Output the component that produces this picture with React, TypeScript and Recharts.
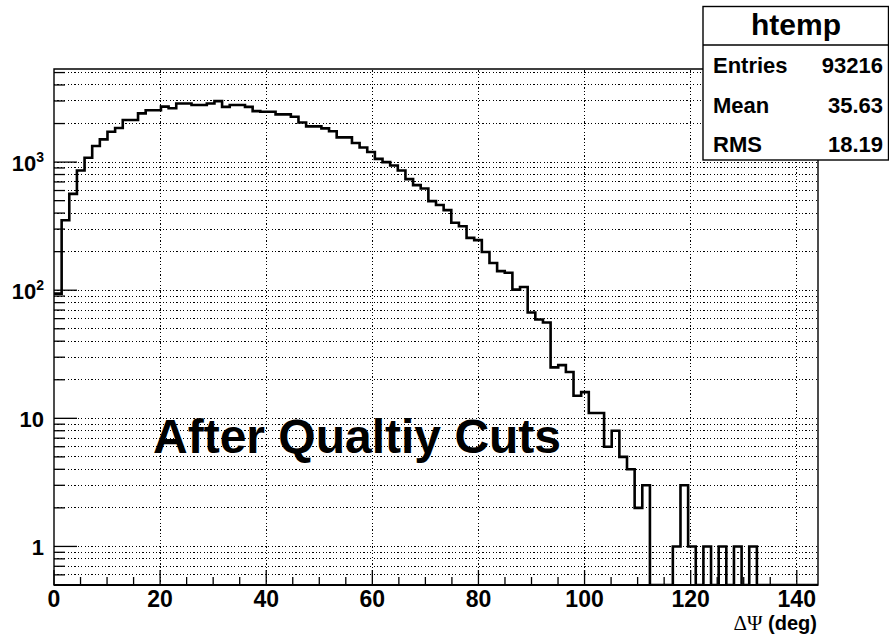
import { ComposedChart, Line, XAxis, YAxis, ReferenceLine, ReferenceArea } from "recharts";

const W = 889;
const H = 639;
const FONT = "'Liberation Sans', Arial, Helvetica, sans-serif";

const BIN_WIDTH = 1.44;
const X_MAX = 144;
const Y_MIN = 0.5;
const Y_MAX = 5330;

// entries per bin (100 bins of 1.44 deg from 0 to 144)
const counts = [
  94, 352, 565, 860, 1080, 1334, 1504, 1725, 1844, 2130,
  2130, 2400, 2540, 2540, 2710, 2630, 2870, 2870, 2790, 2790,
  2870, 2990, 2700, 2790, 2790, 2700, 2500, 2470, 2470, 2360,
  2360, 2260, 2040, 1900, 1900, 1834, 1740, 1560, 1560, 1410,
  1300, 1200, 1060, 1000, 940, 860, 737, 661, 623, 496,
  462, 422, 336, 316, 256, 246, 199, 163, 141, 137,
  101, 106, 67, 59, 56, 25, 26, 23, 15, 16,
  11, 11, 6, 8, 5, 4, 2, 3, 0, 0,
  0, 1, 3, 1, 0, 1, 0, 1, 0, 1,
  0, 1, 0, 0, 0, 0, 0, 0, 0, 0,
];

const xTicks = [
  0, 5, 10, 15, 20, 25, 30, 35, 40, 45, 50, 55, 60, 65, 70,
  75, 80, 85, 90, 95, 100, 105, 110, 115, 120, 125, 130, 135, 140,
];
const xLabelled = [0, 20, 40, 60, 80, 100, 120, 140];
const xGrid = [20, 40, 60, 80, 100, 120, 140];

const yTicks = [
  0.6, 0.7, 0.8, 0.9, 1, 2, 3, 4, 5, 6, 7, 8, 9,
  10, 20, 30, 40, 50, 60, 70, 80, 90,
  100, 200, 300, 400, 500, 600, 700, 800, 900,
  1000, 2000, 3000, 4000, 5000,
];
const yLabels: Record<number, [string, string]> = {
  1: ["1", ""],
  10: ["10", ""],
  100: ["10", "2"],
  1000: ["10", "3"],
};

const statsTitle = "htemp";
const statsRows = [
  ["Entries", "93216"],
  ["Mean", "35.63"],
  ["RMS", "18.19"],
];
const statsBaselines = [73, 113, 152];

// step outline: one point per bin low edge, plus the closing edge
const hist = counts.map((c, i) => ({
  x: Math.round(i * BIN_WIDTH * 100) / 100,
  y: Math.max(c, Y_MIN),
}));
hist.push({ x: X_MAX, y: hist[hist.length - 1].y });

function XTick(props: any) {
  const { x, y, payload } = props;
  const major = xLabelled.includes(payload.value);
  return (
    <g>
      <line x1={x} x2={x} y1={y} y2={y - (major ? 15 : 8)} stroke="#000" strokeWidth={1.3} />
      {major && (
        <text x={x} y={y + 22} textAnchor="middle" fontFamily={FONT} fontWeight="bold" fontSize={23} fill="#000">
          {payload.value}
        </text>
      )}
    </g>
  );
}

function YTick(props: any) {
  const { x, y, payload } = props;
  const label = yLabels[payload.value];
  return (
    <g>
      <line x1={x} x2={x + (label ? 23 : 11)} y1={y} y2={y} stroke="#000" strokeWidth={1.3} />
      {label && (
        <text x={44} y={y + 8.5} textAnchor="end" fontFamily={FONT} fontWeight="bold" fontSize={22} fill="#000">
          {label[0]}
          {label[1] && (
            <tspan dy={-9} fontSize={14}>
              {label[1]}
            </tspan>
          )}
        </text>
      )}
    </g>
  );
}

export default function App() {
  return (
    <div style={{ position: "relative", width: W, height: H, background: "#fff" }}>
      <style>{"body{margin:0;background:#fff}"}</style>
      <ComposedChart width={W} height={H} data={hist} margin={{ top: 69, right: 71, left: 0, bottom: 0 }}>
        <XAxis
          dataKey="x"
          type="number"
          domain={[0, X_MAX]}
          ticks={xTicks}
          interval={0}
          height={54}
          tickSize={0}
          tickMargin={0}
          tickLine={false}
          axisLine={{ stroke: "#000", strokeWidth: 2.2 }}
          tick={<XTick />}
        />
        <YAxis
          scale="log"
          domain={[Y_MIN, Y_MAX]}
          allowDataOverflow
          ticks={yTicks}
          interval={0}
          width={54}
          tickSize={0}
          tickMargin={0}
          tickLine={false}
          axisLine={false}
          tick={<YTick />}
        />
        {yTicks.map((v) => (
          <ReferenceLine
            key={"h" + v}
            y={v}
            stroke="#000"
            strokeWidth={1}
            strokeDasharray="1.2 2.2"
            shapeRendering="crispEdges"
          />
        ))}
        {xGrid.map((v) => (
          <ReferenceLine
            key={"v" + v}
            x={v}
            stroke="#000"
            strokeWidth={1}
            strokeDasharray="1.2 2.2"
            shapeRendering="crispEdges"
          />
        ))}
        <ReferenceArea x1={0} x2={X_MAX} y1={Y_MIN} y2={Y_MAX} fill="none" stroke="#000" strokeWidth={1.4} />
        <Line
          dataKey="y"
          type="stepAfter"
          stroke="#000"
          strokeWidth={2.6}
          dot={false}
          activeDot={false}
          isAnimationActive={false}
        />
      </ComposedChart>

      <svg width={W} height={H} style={{ position: "absolute", left: 0, top: 0, pointerEvents: "none" }}>
        <text x={153} y={453} fontFamily={FONT} fontWeight="bold" fontSize={48} fill="#000">
          After Qualtiy Cuts
        </text>
        <text x={817} y={630} textAnchor="end" fill="#000">
          <tspan fontFamily="'Liberation Serif', 'Times New Roman', serif" fontSize={21}>
            ΔΨ
          </tspan>
          <tspan fontFamily={FONT} fontWeight="bold" fontSize={20}>
            {" (deg)"}
          </tspan>
        </text>

        <rect x={703} y={6.5} width={185.5} height={153.5} fill="#fff" stroke="#000" strokeWidth={1.4} />
        <line x1={703} x2={888.5} y1={45} y2={45} stroke="#000" strokeWidth={1.4} />
        <text x={796} y={35} textAnchor="middle" fontFamily={FONT} fontWeight="bold" fontSize={30} fill="#000">
          {statsTitle}
        </text>
        {statsRows.map(([name, value], i) => (
          <g key={name}>
            <text x={713} y={statsBaselines[i]} fontFamily={FONT} fontWeight="bold" fontSize={22} fill="#000">
              {name}
            </text>
            <text x={883} y={statsBaselines[i]} textAnchor="end" fontFamily={FONT} fontWeight="bold" fontSize={22} fill="#000">
              {value}
            </text>
          </g>
        ))}
      </svg>
    </div>
  );
}
